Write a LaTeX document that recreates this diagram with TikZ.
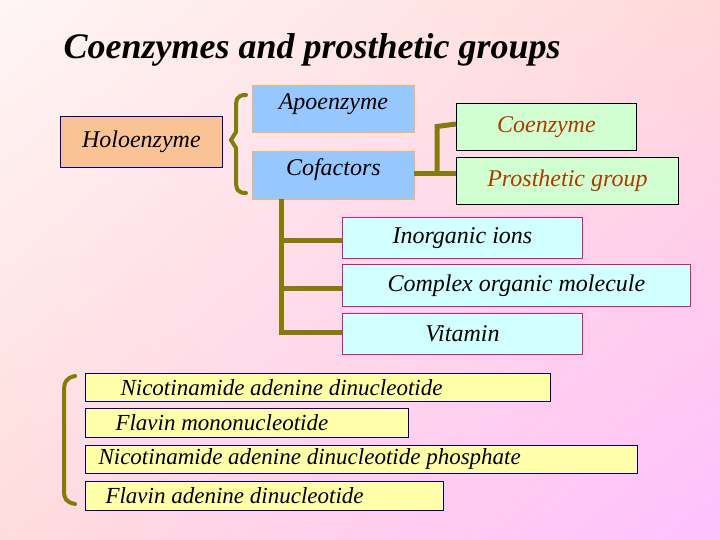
\documentclass[tikz,border=0pt]{standalone}
\usepackage{fontspec}
\setmainfont{Liberation Serif}
\usetikzlibrary{shadings}
\begin{document}
\begin{tikzpicture}[x=1pt,y=-1pt,
 bx/.style={draw,line width=0.8pt,inner sep=0pt,anchor=north west,font=\itshape\fontsize{24}{26}\selectfont},
 conn/.style={draw=olive!90!black,line width=5pt},
 brk/.style={draw=olive!90!black,line width=4pt,line cap=round}]
\shade[upper left=white!85!pink, upper right=pink!60!white, lower left=pink!55!white, lower right=magenta!25!white] (0,0) rectangle (720,540);
\useasboundingbox (0,0) rectangle (720,540);
\definecolor{holo}{RGB}{250,195,150}
\definecolor{apo}{RGB}{150,200,255}
\definecolor{grn}{RGB}{210,255,210}
\definecolor{cy}{RGB}{210,255,255}
\definecolor{yl}{RGB}{255,255,170}
\definecolor{rust}{RGB}{170,60,0}
\node[anchor=west,font=\bfseries\itshape\fontsize{36}{40}\selectfont] (title) at (60,50) {Coenzymes and prosthetic groups};
\node[bx,fill=holo,draw=blue!60!black,minimum width=162pt,minimum height=51pt] (holo) at (60,116) {};
\node[font=\itshape\fontsize{24}{26}\selectfont] (holot) at (holo.center) {Holoenzyme};
\node[bx,fill=apo,draw=orange!60,minimum width=162pt,minimum height=47pt] (apo) at (252,85) {};
\node[font=\itshape\fontsize{24}{26}\selectfont,anchor=north] at ([yshift=-5pt]apo.north) {Apoenzyme};
\node[bx,fill=apo,draw=orange!60,minimum width=162pt,minimum height=48pt] (cof) at (252,151) {};
\node[font=\itshape\fontsize{24}{26}\selectfont,anchor=north] at ([yshift=-4pt]cof.north) {Cofactors};
\node[bx,fill=grn,minimum width=180pt,minimum height=47pt] (coe) at (456,103) {};
\node[font=\itshape\fontsize{24}{26}\selectfont,text=rust] at (coe.center) {Coenzyme};
\node[bx,fill=grn,minimum width=222pt,minimum height=47pt] (pro) at (456,157) {};
\node[font=\itshape\fontsize{24}{26}\selectfont,text=rust] at (pro.center) {Prosthetic group};
\node[bx,fill=cy,draw=magenta!70!purple,minimum width=240pt,minimum height=41pt] (ino) at (342,217) {};
\node[font=\itshape\fontsize{24}{26}\selectfont] at (ino.center) {Inorganic ions};
\node[bx,fill=cy,draw=magenta!70!purple,minimum width=348pt,minimum height=42pt] (com) at (342,264) {};
\node[font=\itshape\fontsize{24}{26}\selectfont] at (com.center) {Complex organic molecule};
\node[bx,fill=cy,draw=magenta!70!purple,minimum width=240pt,minimum height=41pt] (vit) at (342,313) {};
\node[font=\itshape\fontsize{24}{26}\selectfont] at (vit.center) {Vitamin};
% connectors
\coordinate (j1) at (437,174);
\coordinate (j2) at (437,124);
\coordinate (ce) at (456,124);
\coordinate (pe) at (456,174);
\coordinate (cfe) at (414,174);
\coordinate (v0) at (281,199);
\coordinate (v1) at (281,240);
\coordinate (v2) at (281,288);
\coordinate (v3) at (281,332);
\coordinate (ie) at (342,240);
\coordinate (me) at (342,288);
\coordinate (ve) at (342,332);
\draw[conn] (cfe) -- (pe);
\draw[conn] ([yshift=2.5pt]j1) -- ([yshift=-2.5pt]j2) -- (ce);
\draw[conn] (v0) -- (v3) -- (ve);
\draw[conn] (v1) -- (ie);
\draw[conn] (v2) -- (me);
% brace
\draw[brk] (246,95) .. controls (236,95) and (236,100) .. (236,110) -- (236,132) -- (231,140) -- (236,148) -- (236,180) .. controls (236,190) and (238,193) .. (246,193);
% bottom list
\node[bx,fill=yl,draw=blue!50!black,minimum width=465pt,minimum height=28pt] (n1) at (85,373) {};
\node[font=\itshape\fontsize{23}{25}\selectfont,anchor=west] at ([xshift=32pt]n1.west) {Nicotinamide adenine dinucleotide};
\node[bx,fill=yl,draw=blue!50!black,minimum width=323pt,minimum height=29pt] (n2) at (85,408) {};
\node[font=\itshape\fontsize{23}{25}\selectfont,anchor=west] at ([xshift=27pt]n2.west) {Flavin mononucleotide};
\node[bx,fill=yl,draw=blue!50!black,minimum width=552pt,minimum height=28pt] (n3) at (85,445) {};
\node[font=\itshape\fontsize{23}{25}\selectfont,anchor=west] at ([xshift=10pt]n3.west) {Nicotinamide adenine dinucleotide phosphate};
\node[bx,fill=yl,draw=blue!50!black,minimum width=358pt,minimum height=29pt] (n4) at (85,481) {};
\node[font=\itshape\fontsize{23}{25}\selectfont,anchor=west] at ([xshift=17pt]n4.west) {Flavin adenine dinucleotide};
\draw[brk] (75,376) .. controls (66,378) and (64,382) .. (64,392) -- (64,490) .. controls (64,499) and (66,502) .. (75,504);
\end{tikzpicture}
\end{document}
